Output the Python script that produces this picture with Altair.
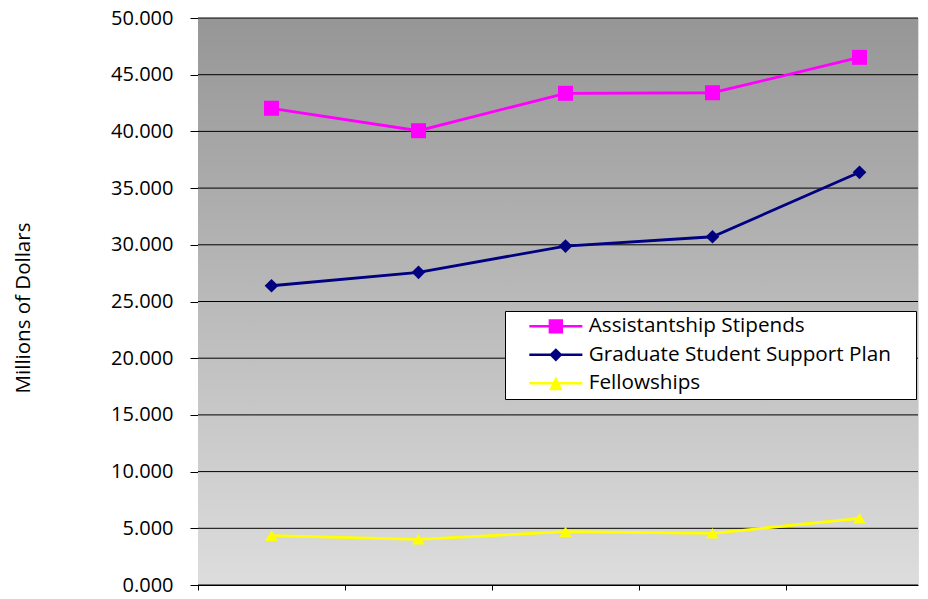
import altair as alt
import pandas as pd

periods = ["P1", "P2", "P3", "P4", "P5"]
series_names = ["Assistantship Stipends", "Graduate Student Support Plan", "Fellowships"]
assistantship = [42.04, 40.06, 43.36, 43.41, 46.53]
gssp = [26.39, 27.57, 29.89, 30.71, 36.39]
fellowships = [4.35, 4.03, 4.70, 4.56, 5.88]
y_ticks = [0, 5, 10, 15, 20, 25, 30, 35, 40, 45, 50]

colors = ["#FF00FF", "#000080", "#FFFF00"]
marker_shapes = ["square", "diamond", "triangle-up"]
marker_sizes = [225, 150, 240]
legend_shapes = [
    "M-3.79,-0.18H3.79V0.18H-3.79Z M-1.03,-1.03H1.03V1.03H-1.03Z",
    "M-3.79,-0.18H3.79V0.18H-3.79Z M0,-0.95L0.95,0L0,0.95L-0.95,0Z",
    "M-3.79,-0.18H3.79V0.18H-3.79Z M0,-1.0L0.95,0.98H-0.95Z",
]

rows = []
for name, vals in zip(series_names, [assistantship, gssp, fellowships]):
    for i, (p, v) in enumerate(zip(periods, vals)):
        rows.append({"period": p, "idx": i, "value": v, "series": name})
df = pd.DataFrame(rows)
grid_df = pd.DataFrame({"value": y_ticks})

W, H = 720, 567
BAND = 147  # px per category; the original plot continues past the right edge
FONT = "Open Sans"

x_domain = [-0.5, W / BAND - 0.5]
x_tick_vals = [i - 0.5 for i in range(len(periods))]

x_enc = alt.X("idx:Q",
              scale=alt.Scale(domain=x_domain, nice=False, zero=False),
              axis=alt.Axis(title=None, labels=False, ticks=True, values=x_tick_vals,
                            tickSize=5, tickColor="black", domainColor="black",
                            grid=False))
y_scale = alt.Scale(domain=[0, 50], nice=False, zero=True)
y_enc = alt.Y("value:Q", scale=y_scale,
              axis=alt.Axis(title="Millions of Dollars", values=y_ticks, format=".3f",
                            grid=False,
                            tickColor="black", tickSize=8, domainColor="black",
                            labelFont=FONT, labelFontSize=20, labelColor="black",
                            labelPadding=17, titleFont=FONT, titleFontSize=20.5,
                            titleFontWeight="normal", titleColor="black",
                            titlePadding=77, titleY=289.5))

color_scale = alt.Scale(domain=series_names, range=colors)

bg = alt.Chart(df).mark_rect(
    fill=alt.Gradient(gradient="linear",
                      stops=[alt.GradientStop(color="#969696", offset=0),
                             alt.GradientStop(color="#DDDDDD", offset=1)],
                      x1=0, x2=0, y1=0, y2=1)
).encode(x=alt.value(0), x2=alt.value("width"), y=alt.value(0), y2=alt.value("height"))

grid = alt.Chart(grid_df).mark_rule(color="black", strokeWidth=1).encode(
    y=alt.Y("value:Q", scale=y_scale), x=alt.value(0), x2=alt.value("width")
)

lines = alt.Chart(df).mark_line(strokeWidth=2.8).encode(
    x=x_enc, y=y_enc,
    color=alt.Color("series:N", scale=color_scale, legend=None),
    detail="series:N",
)

points = alt.Chart(df).mark_point(filled=True, opacity=1).encode(
    x=x_enc, y=y_enc,
    color=alt.Color("series:N", scale=color_scale, legend=None),
    shape=alt.Shape("series:N", scale=alt.Scale(domain=series_names, range=marker_shapes), legend=None),
    size=alt.Size("series:N", scale=alt.Scale(domain=series_names, range=marker_sizes), legend=None),
)

legend_layer = alt.Chart(df).transform_filter("false").mark_point(filled=True, opacity=1).encode(
    x=x_enc, y=y_enc,
    color=alt.Color("series:N", scale=alt.Scale(domain=series_names, range=colors),
                    legend=alt.Legend(title=".", titleOrient="right", titleColor="transparent",
                                      titleFontSize=10, titlePadding=17,
                                      orient="none", legendX=307, legendY=293,
                                      labelFont=FONT, labelFontSize=20.7, labelColor="black",
                                      symbolSize=196, symbolStrokeWidth=0,
                                      symbolOffset=35.5, labelOffset=22.5,
                                      rowPadding=6.5, padding=5,
                                      fillColor="white", strokeColor="black",
                                      labelLimit=0)),
    shape=alt.Shape("series:N", scale=alt.Scale(domain=series_names, range=legend_shapes)),
)

chart = alt.layer(bg, grid, lines, points, legend_layer).resolve_scale(
    color="independent", shape="independent"
).properties(
    width=W, height=H, padding={"left": 5, "top": 0, "right": 0, "bottom": 0}
).configure_view(stroke=None).configure(background="white")

chart.save("out.html", embed_options={"renderer": "svg", "actions": False})
